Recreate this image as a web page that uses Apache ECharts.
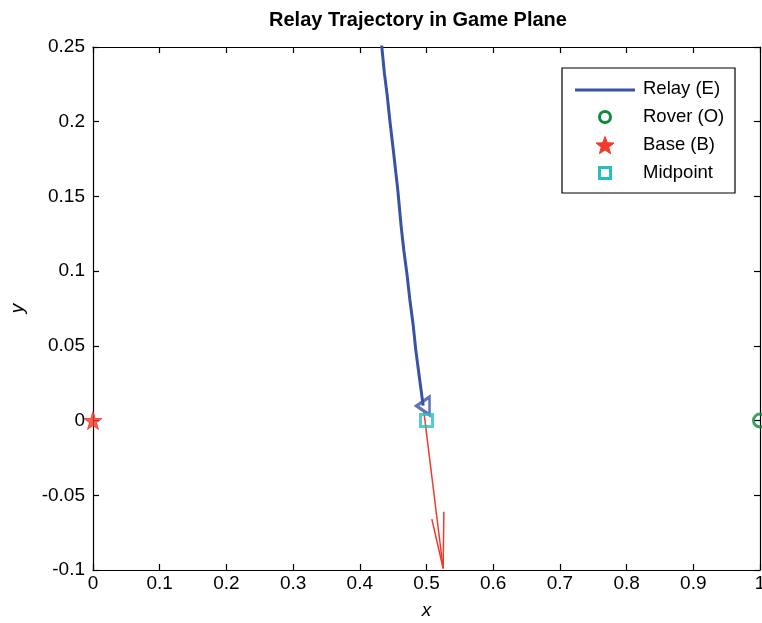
<!DOCTYPE html>
<html>
<head>
<meta charset="utf-8">
<script src="https://cdn.jsdelivr.net/npm/echarts@6/dist/echarts.min.js"></script>
<style>html,body{margin:0;padding:0;background:#fff;overflow:hidden;}#c{width:762px;height:623px;}</style>
</head>
<body>
<div id="c"></div>
<script>
// Data
const relayPath = [
  [0.430, 0.27], [0.433, 0.25], [0.437, 0.232], [0.441, 0.218], [0.445, 0.201],
  [0.451, 0.178], [0.457, 0.154], [0.462, 0.130], [0.466, 0.114], [0.471, 0.097],
  [0.475, 0.081], [0.480, 0.064], [0.484, 0.047], [0.489, 0.030], [0.495, 0.010]
];
const relayEnd = [[0.4948, 0.0098]];
const roverPoint = [[1.0, 0.0]];
const basePoint = [[0.0, 0.0]];
const midPoint = [[0.5, 0.0]];
const arrowShaft = [[0.496, 0.006], [0.525, -0.099]];
const arrowHead = [[0.508, -0.066], [0.525, -0.099], [0.526, -0.061]];
const xTicks = {min: 0, max: 1, step: 0.1};
const yTicks = {min: -0.1, max: 0.25, step: 0.05};
const legendNames = ['Relay (E)', 'Rover (O)', 'Base (B)', 'Midpoint'];
const titleText = 'Relay Trajectory in Game Plane';

const BLUE = '#3953a4', RED = '#f23a2b', GREEN = '#0f8a3c', CYAN = '#25bfc3';
const FONT = '"Liberation Sans", Arial, Helvetica, sans-serif';
const STAR = 'path://M50,0 L61.8,35.1 L98.1,35.1 L68.8,56.8 L79.4,91.6 L50,70.5 L20.6,91.6 L31.2,56.8 L1.9,35.1 L38.2,35.1 Z';

function starPoints(cx, cy, R, r) {
  const pts = [];
  for (let i = 0; i < 10; i++) {
    const a = -Math.PI / 2 + i * Math.PI / 5;
    const rad = i % 2 === 0 ? R : r;
    pts.push([cx + rad * Math.cos(a), cy + rad * Math.sin(a)]);
  }
  return pts;
}

function fmt(v) {
  let r = Math.round(v * 1000) / 1000;
  if (Math.abs(r) < 1e-9) r = 0;
  return String(r);
}

const chart = echarts.init(document.getElementById('c'), null, {renderer: 'canvas'});
const G = {left: 93, top: 47, width: 667, height: 523, containLabel: false, outerBoundsMode: 'none'};
const axisLine = {show: true, onZero: false, lineStyle: {color: '#000', width: 1.2}};
const tick = {show: true, inside: true, length: 6, lineStyle: {color: '#000', width: 1.2}};

chart.setOption({
  animation: false,
  backgroundColor: '#fff',
  grid: G,
  xAxis: [{
    type: 'value', min: xTicks.min, max: xTicks.max, interval: xTicks.step, position: 'bottom',
    axisLine, axisTick: tick, splitLine: {show: false},
    axisLabel: {fontFamily: FONT, fontSize: 19, color: '#000', margin: 4, formatter: fmt, showMaxLabel: true},
    name: 'x', nameLocation: 'middle', nameGap: 31,
    nameTextStyle: {fontFamily: FONT, fontSize: 19, fontStyle: 'italic', color: '#000'}
  }, {
    type: 'value', min: xTicks.min, max: xTicks.max, interval: xTicks.step, position: 'top',
    axisLine, axisTick: tick, splitLine: {show: false}, axisLabel: {show: false}
  }],
  yAxis: [{
    type: 'value', min: yTicks.min, max: yTicks.max, interval: yTicks.step, position: 'left',
    axisLine, axisTick: tick, splitLine: {show: false},
    axisLabel: {fontFamily: FONT, fontSize: 19, color: '#000', margin: 8, formatter: fmt},
    name: 'y', nameLocation: 'middle', nameGap: 66, nameRotate: 90,
    nameTextStyle: {fontFamily: FONT, fontSize: 19, fontStyle: 'italic', color: '#000'}
  }, {
    type: 'value', min: yTicks.min, max: yTicks.max, interval: yTicks.step, position: 'right',
    axisLine, axisTick: tick, splitLine: {show: false}, axisLabel: {show: false}
  }],
  series: [
    {
      name: legendNames[0], type: 'line', data: relayPath, showSymbol: false, symbol: 'none',
      lineStyle: {color: BLUE, width: 3}, clip: true, z: 3
    },
    {
      type: 'scatter', data: relayEnd, symbol: 'triangle', symbolRotate: 90, symbolSize: [18, 13],
      itemStyle: {color: 'rgba(0,0,0,0)', borderColor: BLUE, borderWidth: 3}, z: 4, clip: false
    },
    {
      type: 'line', data: arrowShaft, symbol: 'none', lineStyle: {color: RED, width: 1.5}, z: 5
    },
    {
      type: 'line', data: arrowHead, symbol: 'none', lineStyle: {color: RED, width: 1.5}, z: 5
    },
    {
      name: legendNames[1], type: 'scatter', data: roverPoint, symbol: 'circle', symbolSize: 13,
      itemStyle: {color: 'rgba(0,0,0,0)', borderColor: GREEN, borderWidth: 3}, clip: false, z: 6
    },
    {
      name: legendNames[2], type: 'scatter', data: basePoint, symbol: STAR, symbolSize: 18,
      itemStyle: {color: RED, borderColor: RED, borderWidth: 1}, clip: false, z: 6
    },
    {
      name: legendNames[3], type: 'scatter', data: midPoint, symbol: 'rect', symbolSize: 12,
      itemStyle: {color: 'rgba(0,0,0,0)', borderColor: CYAN, borderWidth: 3}, clip: false, z: 6
    }
  ],
  graphic: [
    {type: 'text', x: 418, y: 20, style: {text: titleText, font: 'bold 20px ' + FONT, fill: '#000', textAlign: 'center', textVerticalAlign: 'middle'}, z: 100},
    {type: 'rect', shape: {x: 562, y: 68, width: 173, height: 125}, style: {fill: '#fff', stroke: '#000', lineWidth: 1.2}, z: 100},
    {type: 'line', shape: {x1: 575, y1: 90, x2: 635, y2: 90}, style: {stroke: BLUE, lineWidth: 3}, z: 101},
    {type: 'circle', shape: {cx: 605, cy: 117, r: 5.5}, style: {fill: 'none', stroke: GREEN, lineWidth: 3}, z: 101},
    {type: 'polygon', shape: {points: starPoints(605, 146, 9.5, 4)}, style: {fill: RED, stroke: RED, lineWidth: 1}, z: 101},
    {type: 'rect', shape: {x: 599.5, y: 167.5, width: 11, height: 11}, style: {fill: 'none', stroke: CYAN, lineWidth: 3}, z: 101},
    {type: 'text', x: 643, y: 89, style: {text: legendNames[0], font: '18.5px ' + FONT, fill: '#000', textVerticalAlign: 'middle'}, z: 101},
    {type: 'text', x: 643, y: 117, style: {text: legendNames[1], font: '18.5px ' + FONT, fill: '#000', textVerticalAlign: 'middle'}, z: 101},
    {type: 'text', x: 643, y: 145, style: {text: legendNames[2], font: '18.5px ' + FONT, fill: '#000', textVerticalAlign: 'middle'}, z: 101},
    {type: 'text', x: 643, y: 173, style: {text: legendNames[3], font: '18.5px ' + FONT, fill: '#000', textVerticalAlign: 'middle'}, z: 101}
  ]
});
</script>
</body>
</html>
